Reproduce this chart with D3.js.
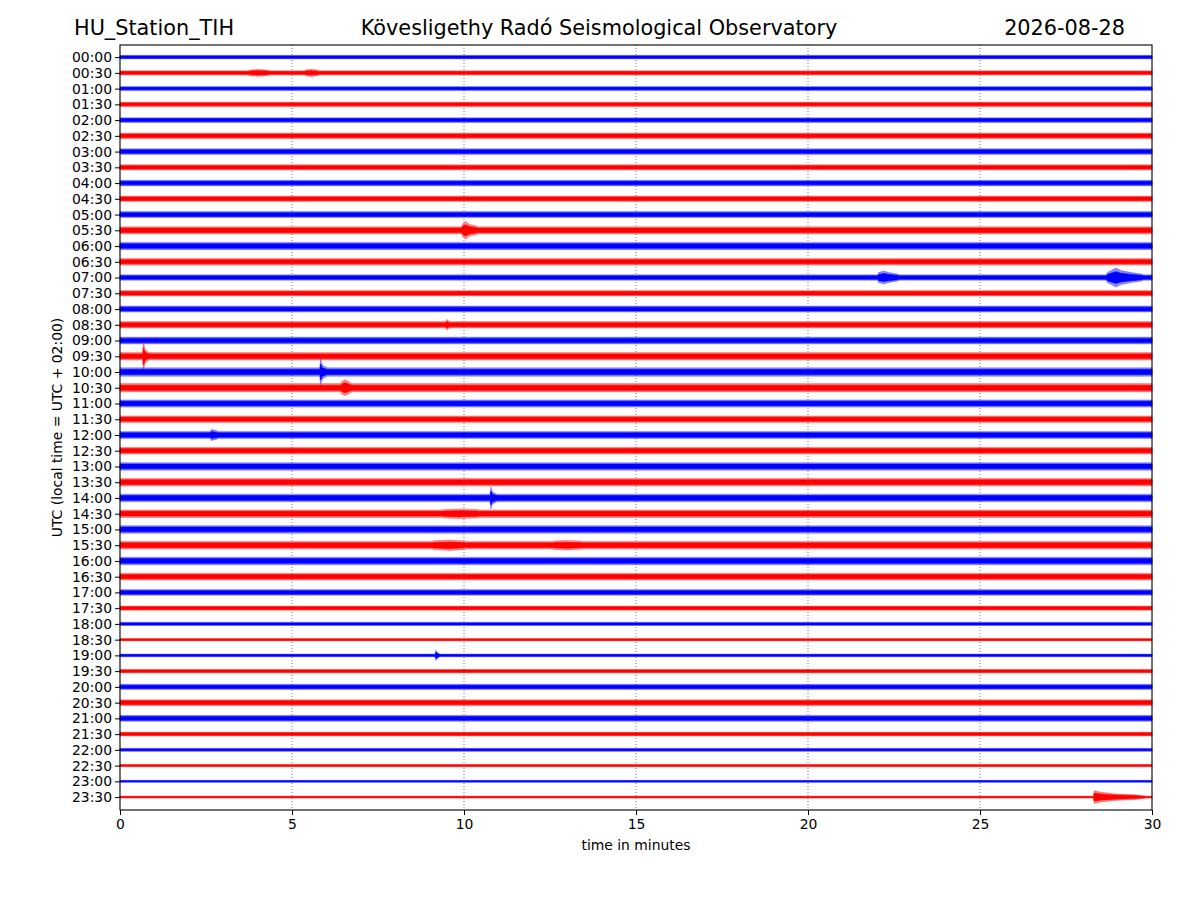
<!DOCTYPE html>
<html>
<head>
<meta charset="utf-8">
<script src="https://cdn.jsdelivr.net/npm/d3@7"></script>
<style>
  body { margin: 0; background: #fff; }
  text { font-family: "DejaVu Sans", sans-serif; }
</style>
</head>
<body>
<div id="chart"></div>
<script>
// helicorder: 48 half-hour lines, 30 minutes each
const rowLabels = d3.range(48).map(function(i) {
    const h = Math.floor(i / 2), m = i % 2 ? '30' : '00';
    return (h < 10 ? '0' : '') + h + ':' + m;
});
const rowColors = ['blue', 'red'];
const xTicks = [0, 5, 10, 15, 20, 25, 30];

// background noise half-amplitude of each line (in trace units)
const baseAmp = [
    1.8, 2.2, 2.0, 2.3, 2.4, 2.8, 2.8, 2.7, 2.8, 2.8,
    3.0, 3.6, 3.6, 3.2, 2.7, 2.7, 3.0, 3.2, 3.4, 3.8,
    4.2, 4.2, 3.6, 3.3, 3.6, 3.4, 3.8, 3.8, 3.8, 3.8,
    3.8, 3.8, 3.8, 3.4, 2.8, 2.2, 1.6, 1.2, 1.4, 1.8,
    2.6, 3.0, 3.0, 2.0, 1.5, 1.2, 1.0, 1.0
];

// visible events: line index, [minute, half-amplitude] envelope points
const events = [
    {row: 1,  pts: [[3.75, 2.8], [4.0, 3.5], [4.3, 2.9]]},
    {row: 1,  pts: [[5.4, 3.0], [5.55, 3.6], [5.75, 2.8]]},
    {row: 11, pts: [[9.95, 6], [10.05, 9], [10.15, 6], [10.35, 4.5]]},
    {row: 14, pts: [[22.05, 5], [22.2, 6.5], [22.35, 5], [22.6, 3.5]]},
    {row: 14, pts: [[28.7, 5], [28.95, 9.5], [29.1, 7], [29.4, 5], [29.7, 3.5]]},
    {row: 17, pts: [[9.5, 5.5], [9.56, 3.6]]},
    {row: 19, pts: [[0.68, 14], [0.73, 7], [0.8, 4.5]]},
    {row: 20, pts: [[5.83, 13], [5.88, 7], [5.98, 5]]},
    {row: 21, pts: [[6.45, 6.5], [6.55, 8], [6.7, 5]]},
    {row: 24, pts: [[2.65, 5.5], [2.8, 4.4]]},
    {row: 28, pts: [[10.78, 11], [10.83, 6], [10.92, 4.5]]},
    {row: 29, pts: [[9.4, 4.2], [9.9, 4.8], [10.4, 4.2]]},
    {row: 31, pts: [[9.1, 4.4], [9.6, 5.2], [10.0, 4.3]]},
    {row: 31, pts: [[12.6, 4.2], [13.0, 4.8], [13.4, 4.1]]},
    {row: 38, pts: [[9.18, 5], [9.25, 2.5]]},
    {row: 47, pts: [[28.32, 6.5], [28.5, 5], [28.9, 3.4], [29.5, 2.4], [29.8, 1.2]]}
];

const width = 1200, height = 900;
const margin = {top: 45, right: 48, bottom: 90, left: 120};

const svg = d3.select('#chart').append('svg')
    .attr('width', width)
    .attr('height', height);

const x = d3.scaleLinear().domain([0, 30]).range([margin.left, width - margin.right]);
const y = d3.scaleLinear().domain([-0.77, 47.82]).range([margin.top, height - margin.bottom]);
// trace units to line spacing
const ampScale = d3.scaleLinear().domain([0, 15.74]).range([0, 1]);

// grid
svg.append('g')
    .selectAll('line')
    .data(xTicks.slice(1, -1))
    .enter()
    .append('line')
    .attr('x1', function(d) {return x(d)})
    .attr('x2', function(d) {return x(d)})
    .attr('y1', margin.top)
    .attr('y2', height - margin.bottom)
    .attr('stroke', '#555')
    .attr('stroke-width', 0.8)
    .attr('stroke-dasharray', '1,2');

// envelope per line
const envelopes = baseAmp.map(function(b, i) {
    let pts = [[0, b]];
    events.filter(function(e) {return e.row === i}).forEach(function(e) {
        pts.push([e.pts[0][0] - 0.02, b]);
        e.pts.forEach(function(p) {pts.push(p)});
        pts.push([e.pts[e.pts.length - 1][0] + 0.05, b]);
    });
    pts.push([30, b]);
    pts.sort(function(a, c) {return a[0] - c[0]});
    return pts;
});

const traces = svg.append('g');
envelopes.forEach(function(pts, i) {
    // outer fringe and denser core of the noise band
    [[1, 0.45], [0.62, 1]].forEach(function(layer) {
        const area = d3.area()
            .x(function(d) {return x(d[0])})
            .y0(function(d) {return y(i - ampScale(d[1] * layer[0]))})
            .y1(function(d) {return y(i + ampScale(d[1] * layer[0]))});
        traces.append('path')
            .datum(pts)
            .attr('d', area)
            .attr('fill', rowColors[i % 2])
            .attr('fill-opacity', layer[1])
            .attr('stroke', rowColors[i % 2])
            .attr('stroke-opacity', layer[1])
            .attr('stroke-width', 0.6);
    });
});

// axes
const xAxis = d3.axisBottom(x).tickValues(xTicks).tickSize(5).tickPadding(4);
const yAxis = d3.axisLeft(y).tickValues(d3.range(48)).tickFormat(function(d) {return rowLabels[d]})
    .tickSize(5).tickPadding(3);

const gx = svg.append('g')
    .attr('transform', 'translate(0,' + (height - margin.bottom) + ')')
    .call(xAxis);
const gy = svg.append('g')
    .attr('transform', 'translate(' + margin.left + ',0)')
    .call(yAxis);
[gx, gy].forEach(function(g) {
    g.select('.domain').remove();
    g.selectAll('text').attr('font-size', 13.9).attr('fill', '#000').style('font-family', 'DejaVu Sans');
    g.selectAll('line').attr('stroke', '#000');
});

svg.append('rect')
    .attr('x', margin.left)
    .attr('y', margin.top)
    .attr('width', width - margin.left - margin.right)
    .attr('height', height - margin.top - margin.bottom)
    .attr('fill', 'none')
    .attr('stroke', '#000')
    .attr('stroke-width', 1.1);

// labels
svg.append('text')
    .attr('x', x(15))
    .attr('y', 850)
    .attr('text-anchor', 'middle')
    .attr('font-size', 13.9)
    .text('time in minutes');

svg.append('text')
    .attr('transform', 'translate(62,' + ((margin.top + height - margin.bottom) / 2) + ') rotate(-90)')
    .attr('text-anchor', 'middle')
    .attr('font-size', 13.9)
    .text('UTC (local time = UTC + 02:00)');

svg.append('text').attr('x', 74).attr('y', 35).attr('font-size', 20.8).text('HU_Station_TIH');
svg.append('text').attr('x', 599).attr('y', 35).attr('font-size', 20.8).attr('text-anchor', 'middle')
    .text('Kövesligethy Radó Seismological Observatory');
svg.append('text').attr('x', 1125).attr('y', 35).attr('font-size', 20.8).attr('text-anchor', 'end')
    .text('2026-08-28');
</script>
</body>
</html>
